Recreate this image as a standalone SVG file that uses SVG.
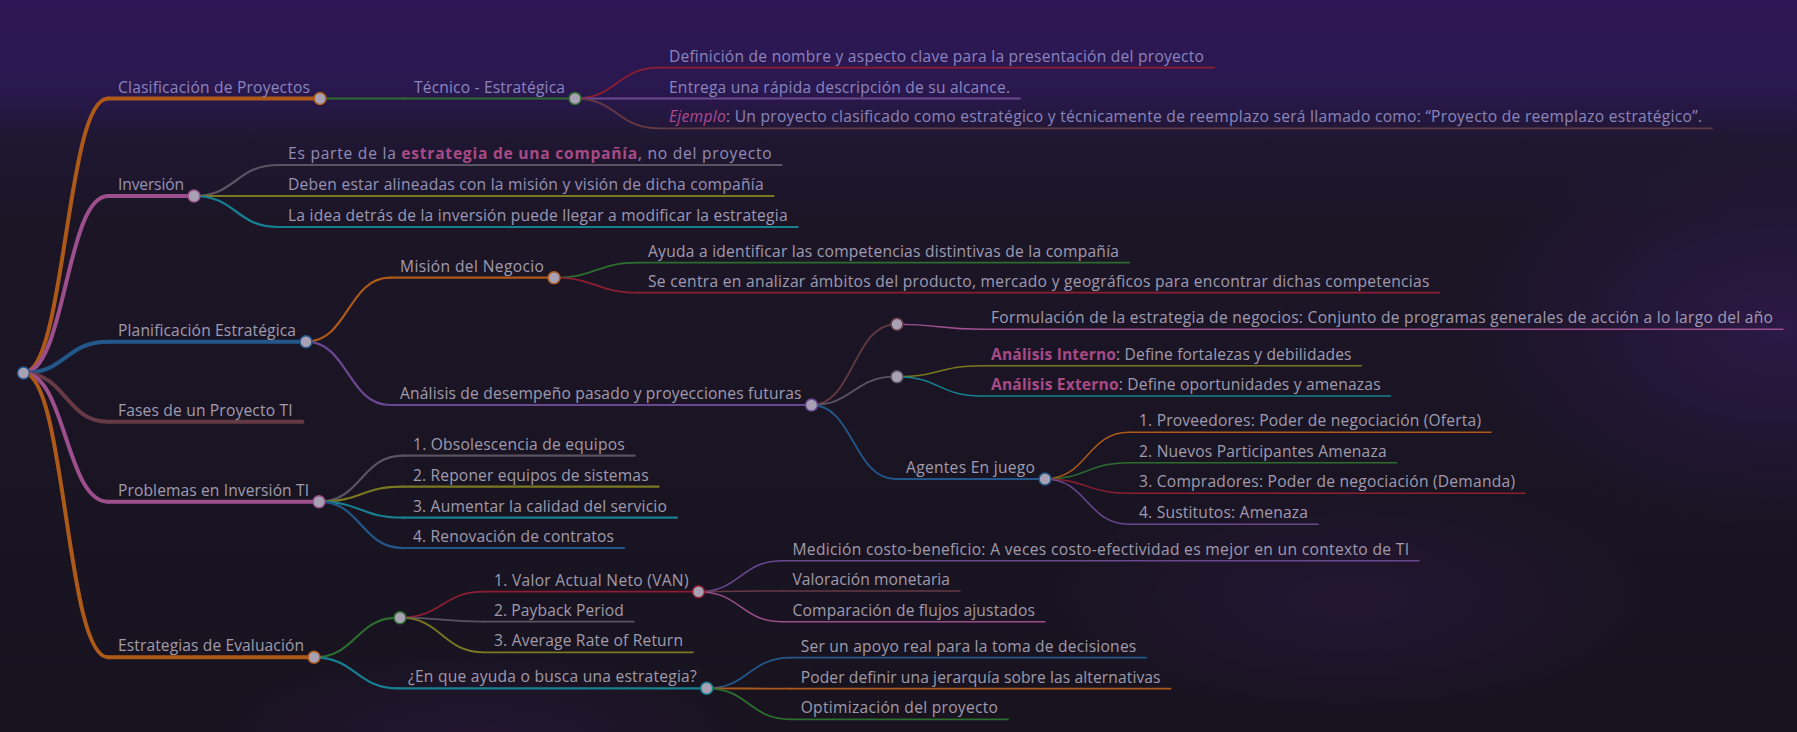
<svg xmlns="http://www.w3.org/2000/svg" width="1797" height="732" viewBox="0 0 1797 732">
<defs>
<linearGradient id="bg" x1="0" y1="0" x2="0" y2="1">
<stop offset="0" stop-color="#2d1754"/>
<stop offset="0.12" stop-color="#2a1850"/>
<stop offset="0.19" stop-color="#1f1732"/>
<stop offset="0.3" stop-color="#1b1526"/>
<stop offset="1" stop-color="#18131f"/>
</linearGradient>
<radialGradient id="glowR" cx="0.5" cy="0.5" r="0.5">
<stop offset="0" stop-color="#3a1c62" stop-opacity="0.55"/>
<stop offset="1" stop-color="#3a1c62" stop-opacity="0"/>
</radialGradient>
<radialGradient id="glowB" cx="0.5" cy="0.5" r="0.5">
<stop offset="0" stop-color="#3a1a55" stop-opacity="0.35"/>
<stop offset="1" stop-color="#3a1a55" stop-opacity="0"/>
</radialGradient>
<linearGradient id="tf" gradientUnits="userSpaceOnUse" x1="0" y1="0" x2="0" y2="732">
<stop offset="0" stop-color="#8a82c2"/>
<stop offset="0.16" stop-color="#8b85bb"/>
<stop offset="0.32" stop-color="#a19bb2"/>
<stop offset="1" stop-color="#a19ba9"/>
</linearGradient>
<style>
.t{font-family:"Open Sans","Noto Sans","DejaVu Sans",sans-serif;font-size:15.6px;fill:url(#tf)}
.b{font-weight:bold;fill:#a84a86}
.i{font-style:italic;fill:#b04a92}
.ln{fill:none;stroke-linecap:round}
.w1{stroke-width:4}
.w2{stroke-width:2.2}
.w3{stroke-width:1.8}
.w4{stroke-width:1.5}
.c{fill:#a7a1b3;stroke-width:1.5}
.or{stroke:#ad5a18}
.bl{stroke:#23578a}
.gr{stroke:#2d6e2f}
.rd{stroke:#8c1e32}
.pu{stroke:#6a4890}
.br{stroke:#653a44}
.pk{stroke:#9c4f8c}
.gy{stroke:#5a5462}
.ol{stroke:#7a7820}
.cy{stroke:#178090}
</style>
</defs>
<rect width="1797" height="732" fill="url(#bg)"/>
<ellipse cx="1780" cy="330" rx="320" ry="200" fill="url(#glowR)"/>
<ellipse cx="480" cy="740" rx="280" ry="90" fill="url(#glowB)"/>
<ellipse cx="1350" cy="600" rx="300" ry="120" fill="url(#glowB)"/>

<g id="connectors" class="ln">
<path class="w1 or" d="M23.5,373 C65.75,373 65.75,98.5 108,98.5"/>
<path class="w1 pk" d="M23.5,373 C65.75,373 65.75,196 108,196"/>
<path class="w1 bl" d="M23.5,373 C65.75,373 65.75,341.7 108,341.7"/>
<path class="w1 br" d="M23.5,373 C65.75,373 65.75,421.7 108,421.7"/>
<path class="w1 pk" d="M23.5,373 C65.75,373 65.75,501.7 108,501.7"/>
<path class="w1 or" d="M23.5,373 C65.75,373 65.75,657.3 108,657.3"/>

<path class="w2 gr" d="M320,98.5 L404,98.5"/>
<path class="w2 gy" d="M194,196 C236,196 236,165 278,165"/>
<path class="w2 ol" d="M194,196 L278,196"/>
<path class="w2 cy" d="M194,196 C236,196 236,227 278,227"/>
<path class="w2 or" d="M306,341.7 C348,341.7 348,277.7 390,277.7"/>
<path class="w2 pu" d="M306,341.7 C348,341.7 348,405 390,405"/>
<path class="w2 gy" d="M319,501.7 C361,501.7 361,455.7 403,455.7"/>
<path class="w2 ol" d="M319,501.7 C361,501.7 361,486.7 403,486.7"/>
<path class="w2 cy" d="M319,501.7 C361,501.7 361,517.7 403,517.7"/>
<path class="w2 bl" d="M319,501.7 C361,501.7 361,548 403,548"/>
<path class="w2 gr" d="M314,657.3 C356,657.3 356,617.7 398,617.7"/>
<path class="w2 cy" d="M314,657.3 C356,657.3 356,688.3 398,688.3"/>

<path class="w3 rd" d="M575,98.5 C617,98.5 617,67.7 659,67.7"/>
<path class="w3 pu" d="M575,98.5 L659,98.5"/>
<path class="w3 br" d="M575,98.5 C617,98.5 617,128.3 659,128.3"/>
<path class="w3 gr" d="M554,277.7 C596,277.7 596,262.7 638,262.7"/>
<path class="w3 rd" d="M554,277.7 C596,277.7 596,292.7 638,292.7"/>
<path class="w3 br" d="M811.5,405 C853.5,405 853.5,324.3 895.5,324.3"/>
<path class="w3 gy" d="M811.5,405 C853.5,405 853.5,376.7 895.5,376.7"/>
<path class="w3 bl" d="M811.5,405 C853.5,405 853.5,479 895.5,479"/>
<path class="w3 rd" d="M400,617.7 C442,617.7 442,591.7 484,591.7"/>
<path class="w3 gy" d="M400,617.7 C442,617.7 442,621.7 484,621.7"/>
<path class="w3 ol" d="M400,617.7 C442,617.7 442,652.3 484,652.3"/>
<path class="w3 bl" d="M706.7,688.3 C748.7,688.3 748.7,657.7 790.7,657.7"/>
<path class="w3 or" d="M706.7,688.3 C748.7,688.3 748.7,688.7 790.7,688.7"/>
<path class="w3 gr" d="M706.7,688.3 C748.7,688.3 748.7,719.3 790.7,719.3"/>

<path class="w4 pk" d="M897,324.3 C939,324.3 939,329.3 981,329.3"/>
<path class="w4 ol" d="M897,376.7 C939,376.7 939,365.7 981,365.7"/>
<path class="w4 cy" d="M897,376.7 C939,376.7 939,396 981,396"/>
<path class="w4 or" d="M1045,479 C1087,479 1087,432.3 1129,432.3"/>
<path class="w4 gr" d="M1045,479 C1087,479 1087,462.7 1129,462.7"/>
<path class="w4 rd" d="M1045,479 C1087,479 1087,493.3 1129,493.3"/>
<path class="w4 pu" d="M1045,479 C1087,479 1087,524.3 1129,524.3"/>
<path class="w4 pu" d="M698.5,591.7 C740.5,591.7 740.5,560.7 782.5,560.7"/>
<path class="w4 br" d="M698.5,591.7 C740.5,591.7 740.5,591 782.5,591"/>
<path class="w4 pk" d="M698.5,591.7 C740.5,591.7 740.5,621.7 782.5,621.7"/>
</g>

<g id="n-root"><circle class="c bl" cx="23.5" cy="373" r="6"/></g>

<g id="n-clasificacion">
<path class="ln w1 or" d="M108,98.5 H320"/>
<text class="t" x="118" y="92.5" textLength="192">Clasificación de Proyectos</text>
</g>
<g id="n-tecnico">
<path class="ln w2 gr" d="M404,98.5 H575"/>
<text class="t" x="414" y="92.5" textLength="151">Técnico - Estratégica</text>
<circle class="c gr" cx="575" cy="98.5" r="6"/>
</g>
<g id="n-clas-circle"><circle class="c or" cx="320" cy="98.5" r="6"/></g>
<g id="n-definicion">
<path class="ln w3 rd" d="M659,67.7 H1214"/>
<text class="t" x="669" y="61.7" textLength="535">Definición de nombre y aspecto clave para la presentación del proyecto</text>
</g>
<g id="n-entrega">
<path class="ln w3 pu" d="M659,98.5 H1020"/>
<text class="t" x="669" y="92.5" textLength="341">Entrega una rápida descripción de su alcance.</text>
</g>
<g id="n-ejemplo">
<path class="ln w3 br" d="M659,128.3 H1712"/>
<text class="t" x="669" y="122.3" textLength="1033"><tspan class="i">Ejemplo</tspan>: Un proyecto clasificado como estratégico y técnicamente de reemplazo será llamado como: “Proyecto de reemplazo estratégico”.</text>
</g>

<g id="n-inversion">
<path class="ln w1 pk" d="M108,196 H194"/>
<text class="t" x="118" y="190" textLength="66">Inversión</text>
<circle class="c pk" cx="194" cy="196" r="6"/>
</g>
<g id="n-esparte">
<path class="ln w2 gy" d="M278,165 H781.6"/>
<text class="t" x="288" y="159" textLength="483.6">Es parte de la <tspan class="b">estrategia de una compañía</tspan>, no del proyecto</text>
</g>
<g id="n-deben">
<path class="ln w2 ol" d="M278,196 H773.6"/>
<text class="t" x="288" y="190" textLength="475.6">Deben estar alineadas con la misión y visión de dicha compañía</text>
</g>
<g id="n-laidea">
<path class="ln w2 cy" d="M278,227 H797.6"/>
<text class="t" x="288" y="221" textLength="499.6">La idea detrás de la inversión puede llegar a modificar la estrategia</text>
</g>

<g id="n-planificacion">
<path class="ln w1 bl" d="M108,341.7 H306"/>
<text class="t" x="118" y="335.7" textLength="178">Planificación Estratégica</text>
</g>
<g id="n-mision">
<path class="ln w2 or" d="M390,277.7 H554"/>
<text class="t" x="400" y="271.7" textLength="144">Misión del Negocio</text>
<circle class="c or" cx="554" cy="277.7" r="6"/>
</g>
<g id="n-ayuda">
<path class="ln w3 gr" d="M638,262.7 H1129"/>
<text class="t" x="648" y="256.7" textLength="471">Ayuda a identificar las competencias distintivas de la compañía</text>
</g>
<g id="n-secentra">
<path class="ln w3 rd" d="M638,292.7 H1439.5"/>
<text class="t" x="648" y="286.7" textLength="781.5">Se centra en analizar ámbitos del producto, mercado y geográficos para encontrar dichas competencias</text>
</g>
<g id="n-analisis">
<path class="ln w2 pu" d="M390,405 H811.5"/>
<text class="t" x="400" y="399" textLength="401.5">Análisis de desempeño pasado y proyecciones futuras</text>
</g>
<g id="n-plan-circle"><circle class="c bl" cx="306" cy="341.7" r="6"/></g>
<g id="n-empty1">
<path class="ln w3 br" d="M895.5,324.3 H897"/>
<circle class="c br" cx="897" cy="324.3" r="6"/>
</g>
<g id="n-formulacion">
<path class="ln w4 pk" d="M981,329.3 H1783"/>
<text class="t" x="991" y="323.3" textLength="782">Formulación de la estrategia de negocios: Conjunto de programas generales de acción a lo largo del año</text>
</g>
<g id="n-empty2">
<path class="ln w3 gy" d="M895.5,376.7 H897"/>
<circle class="c gy" cx="897" cy="376.7" r="6"/>
</g>
<g id="n-interno">
<path class="ln w4 ol" d="M981,365.7 H1361.5"/>
<text class="t" x="991" y="359.7" textLength="360.5"><tspan class="b">Análisis Interno</tspan>: Define fortalezas y debilidades</text>
</g>
<g id="n-externo">
<path class="ln w4 cy" d="M981,396 H1390.6"/>
<text class="t" x="991" y="390" textLength="389.6"><tspan class="b">Análisis Externo</tspan>: Define oportunidades y amenazas</text>
</g>
<g id="n-agentes">
<path class="ln w3 bl" d="M895.5,479 H1045"/>
<text class="t" x="906" y="473" textLength="129">Agentes En juego</text>
<circle class="c bl" cx="1045" cy="479" r="6"/>
</g>
<g id="n-analisis-circle"><circle class="c pu" cx="811.5" cy="405" r="6"/></g>
<g id="n-proveedores">
<path class="ln w4 or" d="M1129,432.3 H1491"/>
<text class="t" x="1139" y="426.3" textLength="342">1. Proveedores: Poder de negociación (Oferta)</text>
</g>
<g id="n-nuevos">
<path class="ln w4 gr" d="M1129,462.7 H1396.6"/>
<text class="t" x="1139" y="456.7" textLength="247.6">2. Nuevos Participantes Amenaza</text>
</g>
<g id="n-compradores">
<path class="ln w4 rd" d="M1129,493.3 H1525"/>
<text class="t" x="1139" y="487.3" textLength="376">3. Compradores: Poder de negociación (Demanda)</text>
</g>
<g id="n-sustitutos">
<path class="ln w4 pu" d="M1129,524.3 H1318"/>
<text class="t" x="1139" y="518.3" textLength="169">4. Sustitutos: Amenaza</text>
</g>

<g id="n-fases">
<path class="ln w1 br" d="M108,421.7 H302.5"/>
<text class="t" x="118" y="415.7" textLength="174.5">Fases de un Proyecto TI</text>
</g>

<g id="n-problemas">
<path class="ln w1 pk" d="M108,501.7 H319"/>
<text class="t" x="118" y="495.7" textLength="191">Problemas en Inversión TI</text>
</g>
<g id="n-obsolescencia">
<path class="ln w2 gy" d="M403,455.7 H634.7"/>
<text class="t" x="413" y="449.7" textLength="211.7">1. Obsolescencia de equipos</text>
</g>
<g id="n-reponer">
<path class="ln w2 ol" d="M403,486.7 H658.6"/>
<text class="t" x="413" y="480.7" textLength="235.6">2. Reponer equipos de sistemas</text>
</g>
<g id="n-aumentar">
<path class="ln w2 cy" d="M403,517.7 H676.8"/>
<text class="t" x="413" y="511.7" textLength="253.8">3. Aumentar la calidad del servicio</text>
</g>
<g id="n-renovacion">
<path class="ln w2 bl" d="M403,548 H624"/>
<text class="t" x="413" y="542" textLength="201">4. Renovación de contratos</text>
</g>
<g id="n-prob-circle"><circle class="c pk" cx="319" cy="501.7" r="6"/></g>

<g id="n-estrategias">
<path class="ln w1 or" d="M108,657.3 H314"/>
<text class="t" x="118" y="651.3" textLength="186">Estrategias de Evaluación</text>
</g>
<g id="n-empty3">
<path class="ln w2 gr" d="M398,617.7 H400"/>
<circle class="c gr" cx="400" cy="617.7" r="6"/>
</g>
<g id="n-van">
<path class="ln w3 rd" d="M484,591.7 H698.5"/>
<text class="t" x="494" y="585.7" textLength="194.5">1. Valor Actual Neto (VAN)</text>
</g>
<g id="n-payback">
<path class="ln w3 gy" d="M484,621.7 H633.8"/>
<text class="t" x="494" y="615.7" textLength="129.8">2. Payback Period</text>
</g>
<g id="n-average">
<path class="ln w3 ol" d="M484,652.3 H693"/>
<text class="t" x="494" y="646.3" textLength="189">3. Average Rate of Return</text>
</g>
<g id="n-medicion">
<path class="ln w4 pu" d="M782.5,560.7 H1419"/>
<text class="t" x="792.5" y="554.7" textLength="616.5">Medición costo-beneficio: A veces costo-efectividad es mejor en un contexto de TI</text>
</g>
<g id="n-valoracion">
<path class="ln w4 br" d="M782.5,591 H960"/>
<text class="t" x="792.5" y="585" textLength="157.5">Valoración monetaria</text>
</g>
<g id="n-comparacion">
<path class="ln w4 pk" d="M782.5,621.7 H1045"/>
<text class="t" x="792.5" y="615.7" textLength="242.5">Comparación de flujos ajustados</text>
</g>
<g id="n-van-circle"><circle class="c rd" cx="698.5" cy="591.7" r="6"/></g>
<g id="n-enque">
<path class="ln w2 cy" d="M398,688.3 H706.7"/>
<text class="t" x="408" y="682.3" textLength="288.7">¿En que ayuda o busca una estrategia?</text>
<circle class="c cy" cx="706.7" cy="688.3" r="6"/>
</g>
<g id="n-estr-circle"><circle class="c or" cx="314" cy="657.3" r="6"/></g>
<g id="n-ser">
<path class="ln w3 bl" d="M790.7,657.7 H1146.3"/>
<text class="t" x="800.7" y="651.7" textLength="335.6">Ser un apoyo real para la toma de decisiones</text>
</g>
<g id="n-poder">
<path class="ln w3 or" d="M790.7,688.7 H1170.5"/>
<text class="t" x="800.7" y="682.7" textLength="359.8">Poder definir una jerarquía sobre las alternativas</text>
</g>
<g id="n-optimizacion">
<path class="ln w3 gr" d="M790.7,719.3 H1008"/>
<text class="t" x="800.7" y="713.3" textLength="197.3">Optimización del proyecto</text>
</g>
</svg>
